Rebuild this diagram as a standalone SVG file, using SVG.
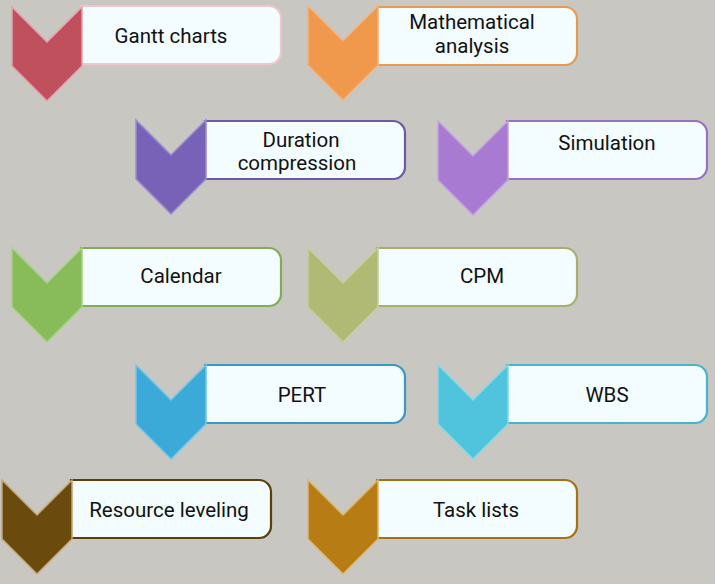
<svg xmlns="http://www.w3.org/2000/svg" width="715" height="584" viewBox="0 0 715 584">
<defs>
<style>
.box{fill:#f3fcff;stroke-width:2.2}
.chev{stroke-width:1.5;stroke-linejoin:miter}
text{font-family:Roboto,"Liberation Sans",sans-serif;font-size:20.5px;fill:#111;text-anchor:middle}
</style>
<path id="chev" d="M0,0 L35,35 L70,0 L70,59 L35,94 L0,59 Z"/>
<path id="box" d="M69,0 H257 A12,12 0 0 1 269,12 V46 A12,12 0 0 1 257,58 H69 Z"/>
</defs>
<rect width="715" height="584" fill="#c8c7c2"/>
<g id="connectors"></g>
<g id="n-gantt" transform="translate(12,7)">
<use href="#box" class="box" y="-1" stroke="#f2c4cf"/>
<use href="#chev" class="chev" fill="#c0505e" stroke="#e3a3ac"/>
<text x="159" y="36">Gantt charts</text>
</g>
<g id="n-math" transform="translate(308,6)">
<use href="#box" class="box" y="1" stroke="#e99a50"/>
<use href="#chev" class="chev" fill="#f0984c" stroke="#f4b27a"/>
<text x="164" y="23">Mathematical</text>
<text x="164" y="47">analysis</text>
</g>
<g id="n-duration" transform="translate(136,120)">
<use href="#box" class="box" y="1" stroke="#6c5aa6"/>
<use href="#chev" class="chev" fill="#7862b8" stroke="#9c8cd0"/>
<text x="165" y="27">Duration</text>
<text x="161" y="50">compression</text>
</g>
<g id="n-simulation" transform="translate(438,121)">
<use href="#box" class="box" y="0" stroke="#9a70c4"/>
<use href="#chev" class="chev" fill="#a87ad2" stroke="#c3a2e2"/>
<text x="169" y="29">Simulation</text>
</g>
<g id="n-calendar" transform="translate(12,248)">
<use href="#box" class="box" y="0" stroke="#80ae58"/>
<use href="#chev" class="chev" fill="#88bc5a" stroke="#a8d184"/>
<text x="169" y="35">Calendar</text>
</g>
<g id="n-cpm" transform="translate(308,248)">
<use href="#box" class="box" y="0" stroke="#a6b06c"/>
<use href="#chev" class="chev" fill="#b0ba74" stroke="#c6ce98"/>
<text x="174" y="35">CPM</text>
</g>
<g id="n-pert" transform="translate(136,365)">
<use href="#box" class="box" y="0" stroke="#3a98c4"/>
<use href="#chev" class="chev" fill="#3caad8" stroke="#76c4e6"/>
<text x="166" y="37">PERT</text>
</g>
<g id="n-wbs" transform="translate(438,365)">
<use href="#box" class="box" y="0" stroke="#48b4cc"/>
<use href="#chev" class="chev" fill="#50c4dc" stroke="#86d8e8"/>
<text x="169" y="37">WBS</text>
</g>
<g id="n-resource" transform="translate(2,480)">
<use href="#box" class="box" y="0" stroke="#5a3e0c"/>
<use href="#chev" class="chev" fill="#6b4a0e" stroke="#c4a878"/>
<text x="167" y="37">Resource leveling</text>
</g>
<g id="n-task" transform="translate(308,480)">
<use href="#box" class="box" y="0" stroke="#a87010"/>
<use href="#chev" class="chev" fill="#b87c14" stroke="#dcb870"/>
<text x="168" y="37">Task lists</text>
</g>
</svg>
